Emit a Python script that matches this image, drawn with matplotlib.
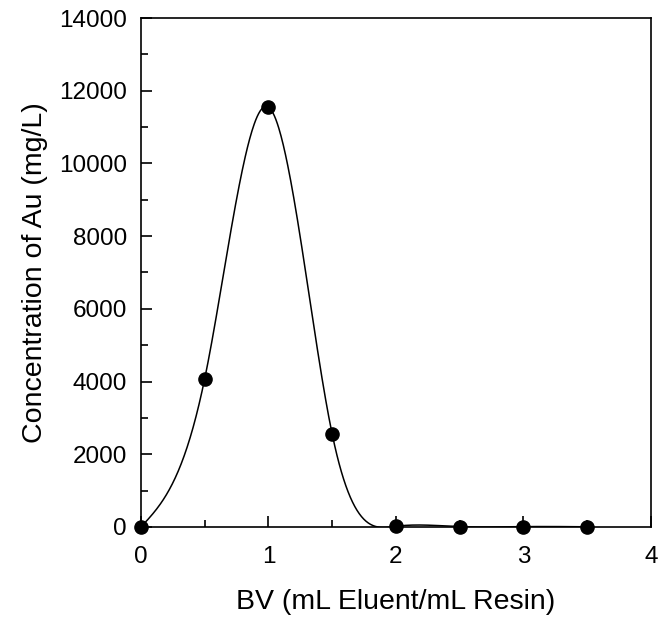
import numpy as np
import matplotlib.pyplot as plt

plt.rcParams['font.family'] = ['Liberation Sans', 'DejaVu Sans']

# datos
bv = [0, 0.5, 1.0, 1.5, 2.0, 2.5, 3.0, 3.5]
au = [0, 4080, 11550, 2550, 20, 10, 10, 5]


def natural_spline(x, y, xs):
    # spline cubica natural a traves de los puntos
    x = np.asarray(x, float)
    y = np.asarray(y, float)
    n = len(x)
    h = np.diff(x)
    A = np.zeros((n, n))
    b = np.zeros(n)
    A[0, 0] = 1
    A[-1, -1] = 1
    for i in range(1, n - 1):
        A[i, i - 1] = h[i - 1]
        A[i, i] = 2 * (h[i - 1] + h[i])
        A[i, i + 1] = h[i]
        b[i] = 6 * ((y[i + 1] - y[i]) / h[i] - (y[i] - y[i - 1]) / h[i - 1])
    M = np.linalg.solve(A, b)
    idx = np.clip(np.searchsorted(x, xs) - 1, 0, n - 2)
    x0, x1 = x[idx], x[idx + 1]
    hh = x1 - x0
    t0 = x1 - xs
    t1 = xs - x0
    return (M[idx] * t0**3 / (6 * hh) + M[idx + 1] * t1**3 / (6 * hh)
            + (y[idx] / hh - M[idx] * hh / 6) * t0
            + (y[idx + 1] / hh - M[idx + 1] * hh / 6) * t1)


xs = np.linspace(bv[0], bv[-1], 600)
ys = natural_spline(bv, au, xs)

fig = plt.figure(figsize=(6.7, 6.17), dpi=100)
ax = fig.add_axes([0.2104, 0.1459, 0.7612, 0.8249])

ax.plot(xs, ys, color='black', lw=1.1)
ax.plot(bv, au, 'o', color='black', ms=9.5, clip_on=False, zorder=5)

ax.set_xlim(0, 4)
ax.set_ylim(0, 14000)
ax.set_xticks([0, 1, 2, 3, 4])
ax.set_xticks([0.5, 1.5, 2.5, 3.5], minor=True)
ax.set_yticks(range(0, 14001, 2000))
ax.set_yticks(range(1000, 14000, 2000), minor=True)

ax.tick_params(which='both', direction='in', top=False, right=False,
               labelsize=17.5, width=1.2)
ax.tick_params(which='major', length=8)
ax.tick_params(which='minor', length=5)
ax.tick_params(axis='x', pad=13.5)
ax.tick_params(axis='y', pad=10)
for s in ax.spines.values():
    s.set_linewidth(1.2)

ax.set_xlabel('BV (mL Eluent/mL Resin)', fontsize=20.5, labelpad=15)
ax.set_ylabel('Concentration of Au (mg/L)', fontsize=20.5, labelpad=8)

plt.savefig('out.png', dpi=100)
